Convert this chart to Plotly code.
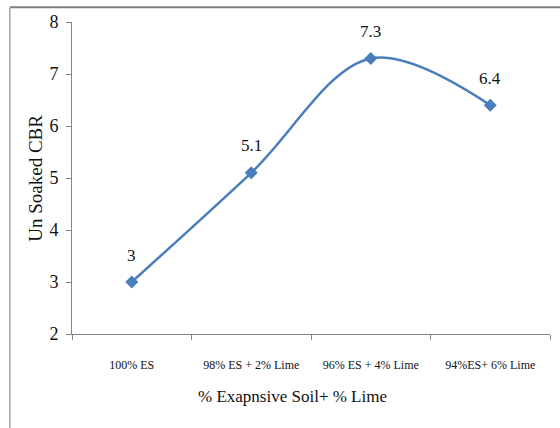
import plotly.graph_objects as go

# Unsoaked CBR for expansive soil stabilised with lime
mixes = ["100% ES", "98% ES + 2% Lime", "96% ES + 4% Lime", "94%ES+ 6% Lime"]
cbr_values = [3, 5.1, 7.3, 6.4]
cbr_labels = ["3", "5.1", "7.3", "6.4"]
y_ticks = [2, 3, 4, 5, 6, 7, 8]

serif = "Liberation Serif"
axis_grey = "#868686"
ink = "#111111"

fig = go.Figure()
fig.add_trace(go.Scatter(
    x=mixes,
    y=cbr_values,
    mode="lines+markers",
    line=dict(color="#4a7ebb", width=2.5, shape="spline", smoothing=1),
    marker=dict(symbol="diamond", size=10, color="#4a7ebb"),
    showlegend=False,
))

# value labels sitting above each marker
value_notes = [
    dict(x=m, y=v, text=t, xref="x", yref="y", showarrow=False,
         yshift=27, font=dict(family=serif, size=17, color=ink))
    for m, v, t in zip(mixes, cbr_values, cbr_labels)
]

fig.update_layout(
    width=560,
    height=428,
    margin=dict(l=72, r=10, t=22, b=94),
    paper_bgcolor="white",
    plot_bgcolor="white",
    font=dict(family=serif, color=ink),
    xaxis=dict(
        type="category",
        categoryorder="array",
        categoryarray=mixes,
        range=[-0.5, 3.5],
        showline=True,
        linecolor=axis_grey,
        linewidth=1,
        showgrid=False,
        zeroline=False,
        ticks="outside",
        tickson="boundaries",
        ticklen=5,
        tickcolor=axis_grey,
        tickfont=dict(family=serif, size=12, color=ink),
        ticklabelstandoff=20,
    ),
    yaxis=dict(
        range=[2, 8],
        tickvals=y_ticks,
        showline=True,
        linecolor=axis_grey,
        linewidth=1,
        showgrid=False,
        zeroline=False,
        ticks="outside",
        ticklen=5,
        tickcolor=axis_grey,
        tickfont=dict(family=serif, size=18, color=ink),
        ticklabelstandoff=4,
    ),
    annotations=value_notes + [
        dict(text="Un Soaked CBR", xref="paper", yref="paper",
             x=-0.078, y=0.5, xanchor="center", yanchor="middle",
             textangle=-90, showarrow=False,
             font=dict(family=serif, size=19, color=ink)),
        dict(text="% Exapnsive Soil+ % Lime", xref="paper", yref="paper",
             x=0.462, y=-0.2, xanchor="center", yanchor="middle",
             showarrow=False,
             font=dict(family=serif, size=17, color=ink)),
    ],
    shapes=[
        dict(type="line", xref="paper", yref="paper",
             x0=-0.13, x1=1.03, y0=1.047, y1=1.047,
             line=dict(color="#808080", width=2)),
        dict(type="line", xref="paper", yref="paper",
             x0=-0.13, x1=-0.13, y0=1.047, y1=-0.32,
             line=dict(color="#a0a0a0", width=1.5)),
    ],
)

fig.write_html("out.html")
